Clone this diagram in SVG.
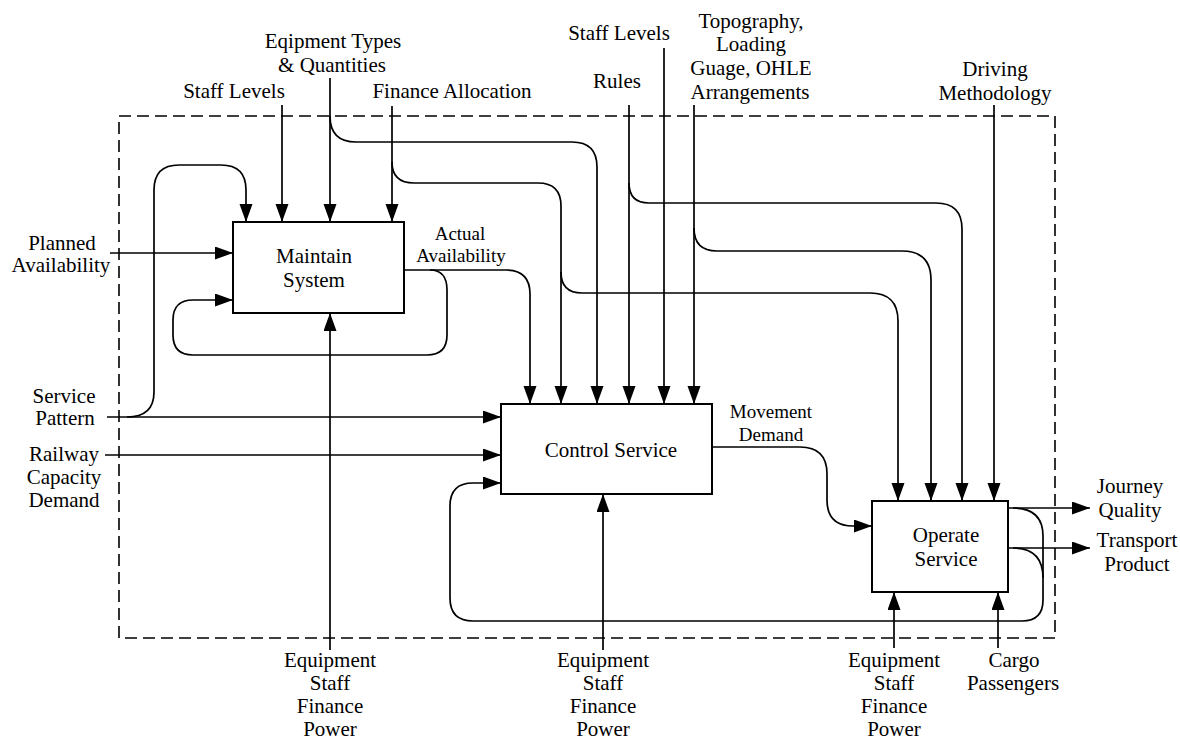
<svg xmlns="http://www.w3.org/2000/svg" width="1180" height="741" viewBox="0 0 1180 741">
<style>
text{font-family:'Liberation Serif','DejaVu Serif',serif;font-size:21px;fill:#000;text-anchor:middle}
.sm{font-size:19px}
.box{fill:#fff;stroke:#000;stroke-width:2}
.ln{fill:none;stroke:#000;stroke-width:1.7}
.ar{marker-end:url(#ah)}
.bd{fill:none;stroke:#000;stroke-width:1.6;stroke-dasharray:12 6}
</style>
<defs>
<marker id="ah" markerUnits="userSpaceOnUse" markerWidth="18" markerHeight="14" refX="18" refY="6.5" orient="auto">
<path d="M0,0 L18,6.5 L0,13 z" fill="#000"/>
</marker>
</defs>
<rect class="bd" x="119" y="116" width="936" height="522"/>
<g id="connectors">
<path class="ln ar" d="M110,253 H233"/>
<path class="ln ar" d="M107,417 H501"/>
<path class="ln ar" d="M127,417 Q154,417 154,392 V190 Q154,165 179,165 H221 Q246,165 246,190 V222"/>
<path class="ln ar" d="M105,455 H501"/>
<path class="ln ar" d="M282,105 V222"/>
<path class="ln ar" d="M330,78 V222"/>
<path class="ln ar" d="M330,116 Q330,142 356,142 H572 Q597,142 597,167 V404"/>
<path class="ln ar" d="M392,106 V222"/>
<path class="ln ar" d="M392,162 Q392,183 414,183 H538 Q561,183 561,206 V404"/>
<path class="ln ar" d="M561,272 Q561,293 582,293 H870 Q898,293 898,321 V501"/>
<path class="ln ar" d="M629,105 V404"/>
<path class="ln ar" d="M629,183 Q629,203 649,203 H936 Q962,203 962,229 V501"/>
<path class="ln ar" d="M664,48 V404"/>
<path class="ln ar" d="M694,105 V404"/>
<path class="ln ar" d="M694,228 Q694,251 717,251 H902 Q931,251 931,280 V501"/>
<path class="ln ar" d="M994,105 V501"/>
<path class="ln ar" d="M404,270 H506 Q530,270 530,294 V404"/>
<path class="ln ar" d="M430,270 Q447,270 447,290 V335 Q447,355 427,355 H193 Q173,355 173,335 V320 Q173,300 193,300 H233"/>
<path class="ln ar" d="M330,650 V313"/>
<path class="ln ar" d="M603,650 V494"/>
<path class="ln ar" d="M712,447 H800 Q827,447 827,474 V500 Q827,526 853,526 H872"/>
<path class="ln ar" d="M1008,508 H1090"/>
<path class="ln ar" d="M1008,548 H1090"/>
<path class="ln ar" d="M1013,508 Q1043,508 1043,536 V600 Q1043,621 1022,621 H473 Q450,621 450,598 V506 Q450,483 473,483 H501"/>
<path class="ln" d="M1013,548 Q1043,548 1043,578"/>
<path class="ln ar" d="M894,648 V592"/>
<path class="ln ar" d="M998,648 V592"/>
</g>
<g id="maintain">
<rect class="box" x="233" y="222" width="171" height="91"/>
<text x="314" y="263">Maintain</text>
<text x="314" y="287">System</text>
</g>
<g id="control">
<rect class="box" x="501" y="404" width="211" height="90"/>
<text x="611" y="457">Control Service</text>
</g>
<g id="operate">
<rect class="box" x="872" y="501" width="136" height="91"/>
<text x="946" y="542">Operate</text>
<text x="946" y="566">Service</text>
</g>
<g id="labels">
<text x="333" y="48">Eqipment Types</text>
<text x="332" y="72">&amp; Quantities</text>
<text x="234" y="98">Staff Levels</text>
<text x="452" y="98">Finance Allocation</text>
<text x="619" y="40">Staff Levels</text>
<text x="617" y="88">Rules</text>
<text x="751" y="28">Topography,</text>
<text x="751" y="51">Loading</text>
<text x="751" y="75">Guage, OHLE</text>
<text x="750" y="99">Arrangements</text>
<text x="995" y="76">Driving</text>
<text x="995" y="100">Methodology</text>
<text x="62" y="250">Planned</text>
<text x="61" y="272">Availability</text>
<text x="64" y="403">Service</text>
<text x="65" y="425">Pattern</text>
<text x="64" y="461">Railway</text>
<text x="64" y="484">Capacity</text>
<text x="64" y="507">Demand</text>
<text class="sm" x="460" y="240">Actual</text>
<text class="sm" x="461" y="262">Availability</text>
<text class="sm" x="771" y="418">Movement</text>
<text class="sm" x="771" y="441">Demand</text>
<text x="1130" y="493">Journey</text>
<text x="1130" y="517">Quality</text>
<text x="1137" y="547">Transport</text>
<text x="1137" y="571">Product</text>
<text x="330" y="667">Equipment</text>
<text x="330" y="690">Staff</text>
<text x="330" y="713">Finance</text>
<text x="330" y="736">Power</text>
<text x="603" y="667">Equipment</text>
<text x="603" y="690">Staff</text>
<text x="603" y="713">Finance</text>
<text x="603" y="736">Power</text>
<text x="894" y="667">Equipment</text>
<text x="894" y="690">Staff</text>
<text x="894" y="713">Finance</text>
<text x="894" y="736">Power</text>
<text x="1014" y="667">Cargo</text>
<text x="1013" y="690">Passengers</text>
</g>
</svg>
